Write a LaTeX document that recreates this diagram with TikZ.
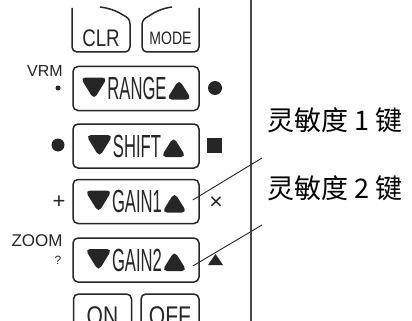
\documentclass[tikz,border=0pt]{standalone}
\usepackage{fontspec}
\setmainfont{Liberation Sans}
\newfontfamily\keyfont[FakeStretch=0.52]{Liberation Sans}
\newfontfamily\capfont[FakeStretch=0.78]{Liberation Sans}
\newfontfamily\cjk{Noto Sans CJK SC}
\definecolor{keygray}{HTML}{262626}
\newcommand{\tridown}{\tikz[baseline=0pt]\fill[keygray] (0pt,22pt) -- (27pt,22pt) -- (13.5pt,0pt) -- cycle;}
\newcommand{\triup}{\tikz[baseline=0pt]\fill[keygray] (0pt,0pt) -- (25pt,0pt) -- (12.5pt,20pt) -- cycle;}

\begin{document}
\begin{tikzpicture}[x=1pt,y=-1pt,
    keybox/.style={draw=keygray, line width=1.5pt, rounded corners=5pt,
        minimum width=126pt, minimum height=44pt, inner sep=0pt,
        text=keygray, font=\keyfont\fontsize{32}{32}\selectfont},
    smallbox/.style={draw=keygray, line width=1.5pt, rounded corners=5pt,
        minimum width=58pt, minimum height=44pt, inner sep=0pt,
        text=keygray, font=\capfont\fontsize{27}{27}\selectfont},
    sidemark/.style={text=keygray, inner sep=0pt},
    dot/.style={circle, fill=keygray, inner sep=0pt},
    leader/.style={draw=keygray, line width=0.9pt},
    callout/.style={anchor=west, inner sep=0pt, font=\cjk\fontsize{27}{27}\selectfont}]
    \useasboundingbox (0,0) rectangle (412,321);
    \clip (0,0) rectangle (412,321);
    \fill[white] (0,0) rectangle (412,321);
    % panel edge
    \draw[line width=2.2pt, keygray!85] (251,0) -- (251,321);
    % CLR and MODE keys
    \node[sidemark, font=\capfont\fontsize{24}{24}\selectfont] (clr) at (101,38) {CLR};
    \node[sidemark, font=\capfont\fontsize{18}{18}\selectfont] (mode) at (170.5,38) {MODE};
    \draw[keygray, line width=1.5pt, rounded corners=5pt] (72,8) -- (72,52) -- (130,52) -- (130,24);
    \draw[keygray, line width=1.5pt] (130,24) .. controls (130,19) and (127,17) .. (123,15) .. controls (115,10) and (108,8) .. (100,7);
    \draw[keygray, line width=1.5pt, rounded corners=5pt] (199,8) -- (199,52) -- (142,52) -- (142,25);
    \draw[keygray, line width=1.5pt] (142,25) .. controls (142,20) and (145,18) .. (149,16) .. controls (156,11) and (164,8) .. (172,7);
    % range keys
    \node[keybox] (range) at (136,88.5) {\tridown RANGE\triup};
    \node[keybox] (shift) at (136,146) {\tridown SHIFT\triup};
    \node[keybox] (gainone) at (136,201.5) {\tridown GAIN1\triup};
    \node[keybox] (gaintwo) at (136,260) {\tridown GAIN2\triup};
    \node[smallbox] (on) at (102.5,316) {ON};
    \node[smallbox] (off) at (170,316) {OFF};
    % marks beside the keys
    \node[sidemark, font=\fontsize{16}{16}\selectfont] (vrm) at (45,71) {VRM};
    \node[dot, minimum size=5pt] (vrmdot) at (58,88) {};
    \node[dot, minimum size=14pt] (rangedot) at (215,88) {};
    \node[dot, minimum size=13pt] (shiftdot) at (58,145) {};
    \node[fill=keygray, inner sep=0pt, minimum size=15pt] (shiftsq) at (214.5,145.5) {};
    \node[sidemark, font=\fontsize{22}{22}\selectfont] (plus) at (59,202) {+};
    \node[sidemark, font=\fontsize{23}{23}\selectfont] (times) at (216,203) {×};
    \node[sidemark, font=\fontsize{17}{17}\selectfont] (zoom) at (37,241) {ZOOM};
    \node[sidemark, font=\fontsize{12}{12}\selectfont] (ques) at (58,260) {?};
    \fill[keygray] (208,265) -- (223,265) -- (215.5,254) -- cycle;
    % callouts
    \node[callout] (labone) at (267,120) {灵敏度 1 键};
    \node[callout] (labtwo) at (267,188) {灵敏度 2 键};
    \coordinate (endone) at (262,158);
    \coordinate (endtwo) at (262,225);
    \draw[leader] ([xshift=-7pt,yshift=1.5pt]gainone.east) -- (endone);
    \draw[leader] ([xshift=-7pt,yshift=-6pt]gaintwo.east) -- (endtwo);
\end{tikzpicture}
\end{document}
